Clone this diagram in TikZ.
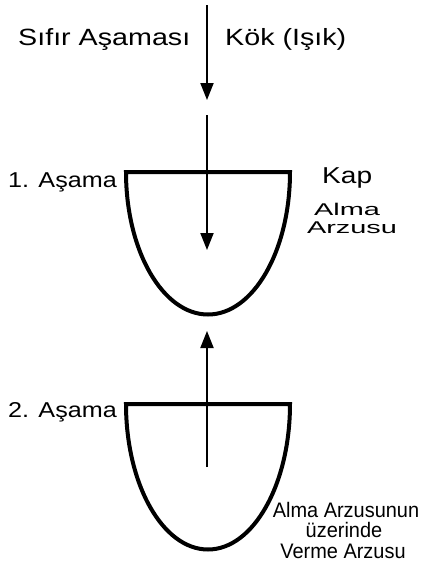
\documentclass[tikz,border=0pt]{standalone}
\usepackage{fontspec}
\setmainfont{Liberation Sans}
\newfontfamily\stretchA[FakeStretch=1.22]{Liberation Sans}
\newfontfamily\stretchB[FakeStretch=1.17]{Liberation Sans}
\newfontfamily\stretchC[FakeStretch=1.7]{Liberation Sans}
\newfontfamily\stretchD[FakeStretch=0.95]{Liberation Sans}
\usetikzlibrary{arrows.meta}
\tikzset{
  arr/.style={line width=2pt, -{Triangle[width=13pt,length=17pt]}},
  cup/.style={line width=4pt, line join=miter},
  lbl/.style={inner sep=0pt, anchor=base west, text=black},
  clbl/.style={inner sep=0pt, anchor=base, text=black},
}
\begin{document}
\begin{tikzpicture}[x=1pt,y=-1pt]
\useasboundingbox (0,0) rectangle (421,566);
% cups
\draw[cup] (126,172) -- (290,172) arc[start angle=0,end angle=180,x radius=82,y radius=142.5] -- cycle;
\draw[cup] (126,404) -- (290,404) arc[start angle=0,end angle=180,x radius=82,y radius=145.5] -- cycle;
% arrow coordinates
\coordinate (a1s) at (207,5);
\coordinate (a1e) at (207,100);
\coordinate (a2s) at (207,115);
\coordinate (a2e) at (207,250);
\coordinate (a3s) at (207,467);
\coordinate (a3e) at (207,331);
\draw[arr] (a1s) -- (a1e);
\draw[arr] (a2s) -- (a2e);
\draw[arr] (a3s) -- (a3e);
% labels
\node[lbl, font=\stretchA\fontsize{23.5}{28}\selectfont] (sifir) at (18,45) {Sıfır Aşaması};
\node[lbl, font=\stretchA\fontsize{23.5}{28}\selectfont] (kok) at (225,45) {Kök (Işık)};
\node[lbl, font=\stretchB\fontsize{21.5}{26}\selectfont] (as1) at (8,187) {1. Aşama};
\node[lbl, font=\stretchB\fontsize{21.5}{26}\selectfont] (as2) at (8,417) {2. Aşama};
\node[lbl, font=\stretchA\fontsize{23}{28}\selectfont] (kap) at (322,183) {Kap};
\node[clbl, font=\stretchC\fontsize{17}{20}\selectfont] (alma) at (347,215) {Alma};
\node[clbl, font=\stretchC\fontsize{17}{20}\selectfont] (arzusu) at (352,233) {Arzusu};
\node[clbl, font=\stretchD\fontsize{21}{24}\selectfont] (b1) at (346,517) {Alma Arzusunun};
\node[clbl, font=\stretchD\fontsize{21}{24}\selectfont] (b2) at (344,537) {üzerinde};
\node[clbl, font=\stretchD\fontsize{21}{24}\selectfont] (b3) at (343,558) {Verme Arzusu};
\end{tikzpicture}
\end{document}
